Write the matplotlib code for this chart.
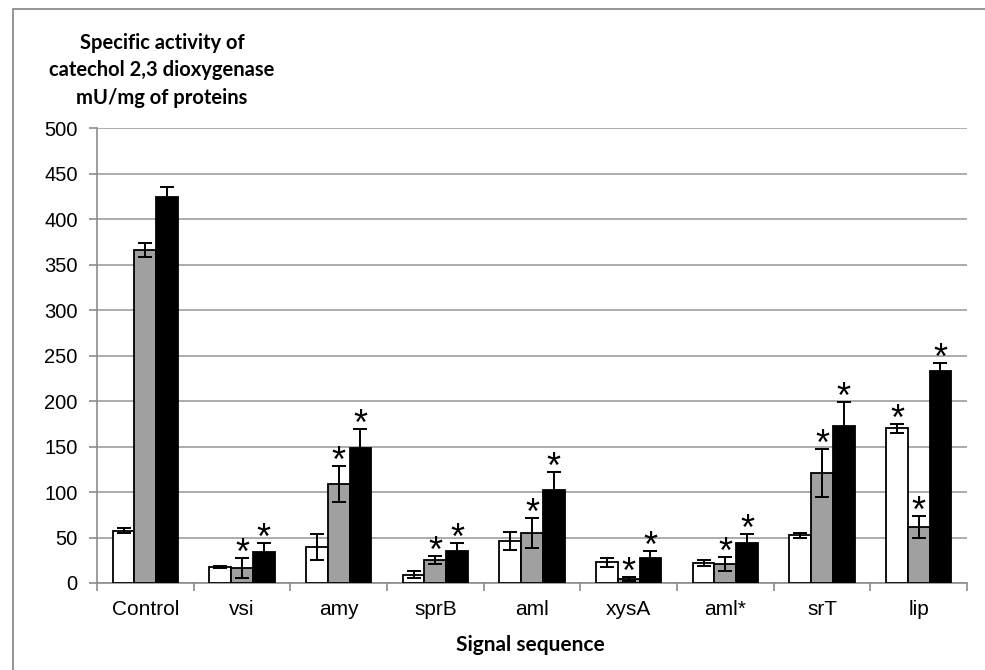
import matplotlib
matplotlib.use("Agg")
import matplotlib.pyplot as plt
import matplotlib.transforms as mtransforms
from matplotlib.patches import Rectangle
import numpy as np

categories = ["Control", "vsi", "amy", "sprB", "aml", "xysA", "aml*", "srT", "lip"]
white_vals = [57.5, 17.6, 39.6, 9.0, 45.8, 23.0, 22.0, 52.4, 170.0]
white_err = [3.0, 1.0, 14.6, 4.0, 10.0, 5.0, 3.7, 2.5, 5.0]
gray_vals = [366.0, 16.5, 109.0, 25.6, 55.0, 4.4, 21.0, 121.0, 61.5]
gray_err = [8.0, 11.0, 20.0, 4.5, 16.0, 2.0, 8.0, 26.0, 12.0]
black_vals = [424.0, 33.7, 148.0, 35.0, 102.0, 28.0, 44.0, 173.0, 232.6]
black_err = [11.0, 10.0, 21.0, 9.0, 20.0, 7.0, 10.0, 26.0, 9.0]
white_star = [False, False, False, False, False, False, False, False, True]
gray_star = [False, True, True, True, True, True, True, True, True]
black_star = [False, True, True, True, True, True, True, True, True]
yticks = [0, 50, 100, 150, 200, 250, 300, 350, 400, 450, 500]
ylabel_lines = ["Specific activity of", "catechol 2,3 dioxygenase", "mU/mg of proteins"]
xlabel = "Signal sequence"

W, H = 985, 670
fig = plt.figure(figsize=(W / 100, H / 100), dpi=100)
ax = fig.add_axes([97 / W, 1 - 583 / H, (967 - 97) / W, (583 - 128) / H])

# figure frame (top/left visible)
fig.patches.append(Rectangle((13 / W, -0.05), 1.1, 1 - 9 / H + 0.05, transform=fig.transFigure,
                             fill=False, edgecolor="#8c8c8c", linewidth=1.3))

x = np.arange(len(categories)) + 0.5
bw = 0.225
series = [
    (white_vals, white_err, white_star, "white", -bw),
    (gray_vals, gray_err, gray_star, "#a0a0a0", 0.0),
    (black_vals, black_err, black_star, "black", bw),
]

star_trans = mtransforms.offset_copy(ax.transData, fig=fig, x=0, y=-6, units="dots")
for vals, errs, stars, color, off in series:
    ax.bar(x + off, vals, width=bw, color=color, edgecolor="black", linewidth=1.3, zorder=3)
    ax.errorbar(x + off, vals, yerr=errs, fmt="none", ecolor="black", elinewidth=1.4,
                capsize=5, capthick=1.4, zorder=4)
    for xi, v, e, s in zip(x + off, vals, errs, stars):
        if s:
            ax.text(xi, v + e, "*", transform=star_trans, ha="center", va="baseline",
                    fontsize=26, family="Liberation Sans", color="black", zorder=5)

ax.set_xlim(0, len(categories))
ax.set_ylim(0, 500)
ax.set_yticks(yticks)
ax.set_yticklabels([str(t) for t in yticks], family="Liberation Sans", fontsize=14.5)
ax.set_xticks(np.arange(len(categories) + 1))
ax.set_xticklabels([])
ax.set_xticks(x, minor=True)
ax.set_xticklabels(categories, minor=True, family="Liberation Sans", fontsize=15)
ax.tick_params(axis="x", which="minor", length=0, pad=12)
ax.tick_params(axis="x", which="major", length=6, color="#8c8c8c", width=1.2)
ax.tick_params(axis="y", length=6, color="#8c8c8c", width=1.2, pad=8)
ax.grid(axis="y", color="#a6a6a6", linewidth=1.3, zorder=0)
ax.set_axisbelow(True)
for side in ["top", "right"]:
    ax.spines[side].set_visible(False)
for side in ["left", "bottom"]:
    ax.spines[side].set_color("#8c8c8c")
    ax.spines[side].set_linewidth(1.2)

for i, line in enumerate(ylabel_lines):
    fig.text(162 / W, 1 - (43 + 27.5 * i) / H, line, ha="center", va="center",
             family="Lato", fontweight="bold", fontsize=14.5)
fig.text(530 / W, 1 - 645 / H, xlabel, ha="center", va="center",
         family="Lato", fontweight="bold", fontsize=15)

fig.savefig("out.png", dpi=100)
